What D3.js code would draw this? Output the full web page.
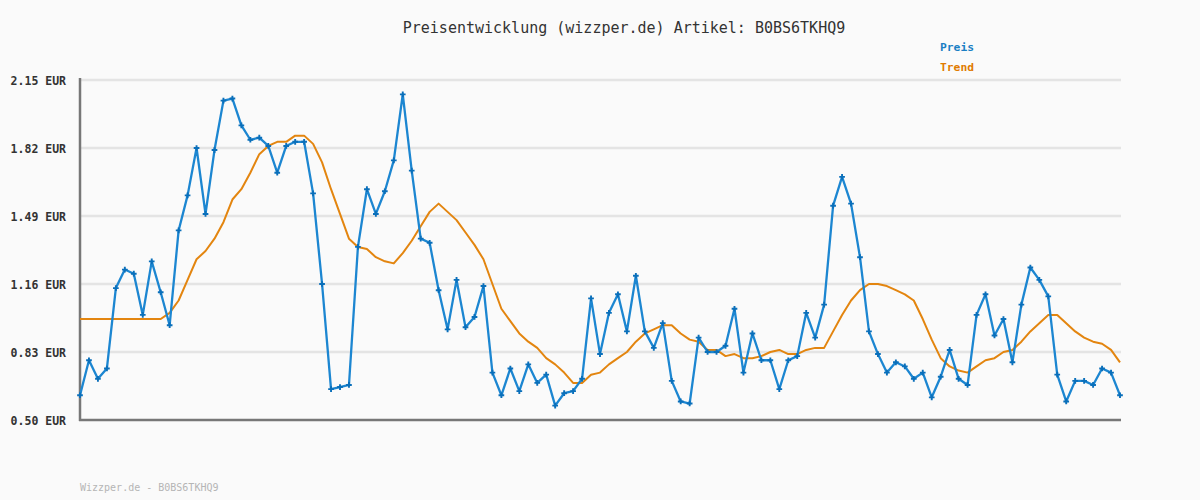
<!DOCTYPE html>
<html>
<head>
<meta charset="utf-8">
<script src="https://cdn.jsdelivr.net/npm/d3@7"></script>
<style>
  html, body { margin: 0; padding: 0; background: #fafafa; }
  svg { display: block; }
</style>
</head>
<body>
<svg id="chart" width="1200" height="500"></svg>
<script>
const titleText = "Preisentwicklung (wizzper.de) Artikel: B0BS6TKHQ9";
const footerText = "Wizzper.de - B0BS6TKHQ9";
const legendLabels = ["Preis", "Trend"];
const yTickValues = [0.50, 0.83, 1.16, 1.49, 1.82, 2.15];

const price = [
  0.62, 0.79, 0.70, 0.75, 1.14, 1.23, 1.21, 1.01, 1.27, 1.12,
  0.96, 1.42, 1.59, 1.82, 1.50, 1.81, 2.05, 2.06, 1.93, 1.86,
  1.87, 1.83, 1.70, 1.83, 1.85, 1.85, 1.60, 1.16, 0.65, 0.66,
  0.67, 1.34, 1.62, 1.50, 1.61, 1.76, 2.08, 1.71, 1.38, 1.36,
  1.13, 0.94, 1.18, 0.95, 1.00, 1.15, 0.73, 0.62, 0.75, 0.64,
  0.77, 0.68, 0.72, 0.57, 0.63, 0.64, 0.70, 1.09, 0.82, 1.02,
  1.11, 0.93, 1.20, 0.93, 0.85, 0.97, 0.69, 0.59, 0.58, 0.90,
  0.83, 0.83, 0.86, 1.04, 0.73, 0.92, 0.79, 0.79, 0.65, 0.79,
  0.81, 1.02, 0.90, 1.06, 1.54, 1.68, 1.55, 1.29, 0.93, 0.82,
  0.73, 0.78, 0.76, 0.70, 0.73, 0.61, 0.71, 0.84, 0.70, 0.67,
  1.01, 1.11, 0.91, 0.99, 0.78, 1.06, 1.24, 1.18, 1.10, 0.72,
  0.59, 0.69, 0.69, 0.67, 0.75, 0.73, 0.62
];

const trend = [
  0.99, 0.99, 0.99, 0.99, 0.99, 0.99, 0.99, 0.99, 0.99, 0.99,
  1.02, 1.08, 1.18, 1.28, 1.32, 1.38, 1.46, 1.57, 1.62, 1.70,
  1.79, 1.83, 1.85, 1.85, 1.88, 1.88, 1.84, 1.75, 1.62, 1.50,
  1.38, 1.34, 1.33, 1.29, 1.27, 1.26, 1.31, 1.37, 1.44, 1.51,
  1.55, 1.51, 1.47, 1.41, 1.35, 1.28, 1.16, 1.04, 0.98, 0.92,
  0.88, 0.85, 0.80, 0.77, 0.73, 0.68, 0.68, 0.72, 0.73, 0.77,
  0.80, 0.83, 0.88, 0.92, 0.94, 0.96, 0.96, 0.92, 0.89, 0.88,
  0.84, 0.84, 0.81, 0.82, 0.80, 0.80, 0.81, 0.83, 0.84, 0.82,
  0.82, 0.84, 0.85, 0.85, 0.93, 1.01, 1.08, 1.13, 1.16, 1.16,
  1.15, 1.13, 1.11, 1.08, 0.99, 0.89, 0.80, 0.76, 0.74, 0.73,
  0.76, 0.79, 0.80, 0.83, 0.84, 0.88, 0.93, 0.97, 1.01, 1.01,
  0.97, 0.93, 0.90, 0.88, 0.87, 0.84, 0.78
];

const svg = d3.select("#chart");
const W = 1200, H = 500;
const pLeft = 80, pRight = 1120, pTop = 80, pBottom = 420;

svg.append("rect").attr("width", W).attr("height", H).attr("fill", "#fafafa");

const x = d3.scaleLinear().domain([0, price.length - 1]).range([pLeft, pRight]);
const y = d3.scaleLinear().domain([0.50, 2.15]).range([pBottom, pTop]);

const mono = "'DejaVu Sans Mono', 'Liberation Mono', monospace";

// grid lines
svg.append("g").selectAll("line").data(yTickValues.filter(v => v > 0.5)).join("line")
  .attr("x1", pLeft).attr("x2", pRight + 1)
  .attr("y1", d => y(d)).attr("y2", d => y(d))
  .attr("stroke", "#e4e4e4").attr("stroke-width", 2.5);

// y axis labels
const yAxis = d3.axisLeft(y).tickValues(yTickValues).tickSize(0).tickPadding(14)
  .tickFormat(d => d.toFixed(2) + " EUR");
const gy = svg.append("g").attr("transform", `translate(${pLeft},0)`).call(yAxis);
gy.select(".domain").remove();
gy.selectAll("text")
  .attr("font-family", mono).attr("font-size", "11.5px").attr("font-weight", "bold")
  .attr("fill", "#333").attr("dy", "0.35em");

// axes lines
svg.append("line").attr("x1", pLeft).attr("x2", pLeft).attr("y1", pTop - 2).attr("y2", pBottom + 1)
  .attr("stroke", "#777").attr("stroke-width", 2.5);
svg.append("line").attr("x1", pLeft - 1).attr("x2", pRight + 1).attr("y1", pBottom).attr("y2", pBottom)
  .attr("stroke", "#777").attr("stroke-width", 2.5);

// trend line
svg.append("path").datum(trend)
  .attr("fill", "none").attr("stroke", "#e3850f").attr("stroke-width", 2)
  .attr("stroke-linejoin", "round")
  .attr("d", d3.line().x((d, i) => x(i)).y(d => y(d)));

// price line
svg.append("path").datum(price)
  .attr("fill", "none").attr("stroke", "#1c86d1").attr("stroke-width", 2.3)
  .attr("stroke-linejoin", "round")
  .attr("d", d3.line().x((d, i) => x(i)).y(d => y(d)));

// price markers
svg.append("g").selectAll("path").data(price).join("path")
  .attr("transform", (d, i) => `translate(${x(i)},${y(d)})`)
  .attr("d", d3.symbol().type(d3.symbolCross).size(18))
  .attr("fill", "#0a6fba");

// title
svg.append("text").attr("x", 624).attr("y", 33).attr("text-anchor", "middle")
  .attr("font-family", mono).attr("font-size", "15px").attr("fill", "#333")
  .text(titleText);

// legend
const legendColors = ["#1a7fc4", "#e07b00"];
svg.append("g").selectAll("text").data(legendLabels).join("text")
  .attr("x", 940).attr("y", (d, i) => 51 + i * 20)
  .attr("font-family", mono).attr("font-size", "11.3px").attr("font-weight", "bold")
  .attr("fill", (d, i) => legendColors[i])
  .text(d => d);

// footer
svg.append("text").attr("x", 80).attr("y", 491)
  .attr("font-family", mono).attr("font-size", "10px").attr("fill", "#b5b5b5")
  .text(footerText);
</script>
</body>
</html>
